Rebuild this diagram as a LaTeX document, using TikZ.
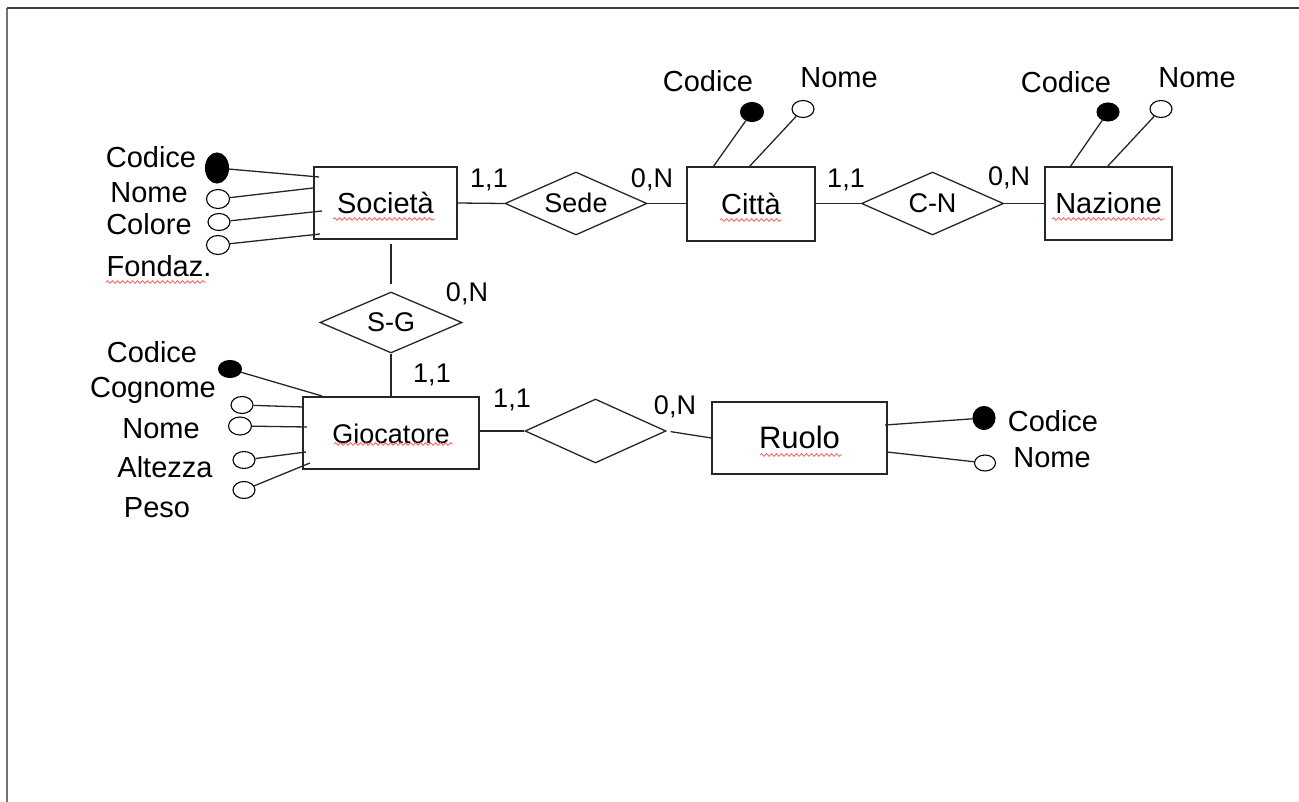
\documentclass[tikz,border=0pt]{standalone}
\usepackage{fontspec}
\setmainfont{Liberation Sans}
\usetikzlibrary{shapes.geometric,decorations.pathmorphing,calc}
\begin{document}
\begin{tikzpicture}[x=1pt,y=-1pt,
  ent/.style={draw=black!85,line width=1.3pt,rectangle,inner sep=0pt,text height=21pt,text depth=0pt,font=\fontsize{29}{30}\selectfont},
  rel/.style={draw=black!85,line width=1.3pt,diamond,inner sep=0pt,minimum width=142pt,minimum height=63pt},
  rtxt/.style={inner sep=0pt,text height=19pt,text depth=0pt,font=\fontsize{27}{28}\selectfont},
  keyattr/.style={draw=black,fill=black,ellipse,inner sep=0pt,line width=1.1pt},
  attr/.style={draw=black,fill=white,ellipse,inner sep=0pt,line width=1.1pt},
  lbl/.style={inner sep=0pt,text height=21pt,text depth=0pt,font=\fontsize{29}{30}\selectfont},
  card/.style={inner sep=0pt,text height=19pt,text depth=0pt,font=\fontsize{27}{28}\selectfont},
  conn/.style={draw=black!85,line width=1.3pt},
  wave/.style={draw=red!65!white,line width=0.8pt,decorate,decoration={snake,segment length=5pt,amplitude=1.3pt}}
]
\useasboundingbox (0,0) rectangle (1299,802);
% frame
\coordinate (fTL) at (7,8);
\coordinate (fTR) at (1299,8);
\coordinate (fBL) at (7,802);
\draw[black!55,line width=2pt] (fTL) -- (fBL);
\draw[black!75,line width=1.5pt] (fTL) -- (fTR);

% entities
\node[ent,minimum width=143pt,minimum height=72pt] (soc) at (385.5,203) {Società};
\node[ent,minimum width=128pt,minimum height=74pt] (cit) at (751,204) {Città};
\node[ent,minimum width=127pt,minimum height=73pt] (naz) at (1108.5,203.5) {Nazione};
\node[ent,minimum width=176pt,minimum height=72pt,font=\fontsize{27}{28}\selectfont] (gio) at (391,433) {Giocatore};
\node[ent,minimum width=175pt,minimum height=72pt,font=\fontsize{31}{32}\selectfont] (ruo) at (799.5,438) {Ruolo};

% relationships
\node[rel] (sede) at (576,203.5) {};
\node[rtxt] (sedeT) at (sede) {Sede};
\node[rel] (cn) at (932.5,203.5) {};
\node[rtxt] (cnT) at (cn) {C-N};
\node[rel,minimum height=61pt] (sg) at (391,322.5) {};
\node[rtxt] (sgT) at (sg) {S-G};
\node[rel,minimum width=141pt,minimum height=64pt] (gr) at (595.5,431) {};

% connectors
\draw[conn] (soc.east) -- (sede.west);
\draw[conn] (sede.east) -- (sede.east -| cit.west);
\draw[conn] (cn.west -| cit.east) -- (cn.west);
\draw[conn] (cn.east) -- (cn.east -| naz.west);
\draw[conn,shorten <=7pt,shorten >=4pt] (sg.north) -- (sg.north |- soc.south);
\draw[conn] (sg.south) -- (gio.north);
\draw[conn] (gr.west -| gio.east) -- (gr.west);
\draw[conn,shorten <=4pt] (gr.east) -- (ruo.west);

% wavy underlines
\draw[wave] (333,219) -- (435,219);
\draw[wave] (720,220) -- (782,220);
\draw[wave] (1052,219) -- (1165,219);
\draw[wave] (106,282) -- (206,282);
\draw[wave] (334,444) -- (453,444);
\draw[wave] (760,455) -- (842,455);

% Società attributes
\node[keyattr,minimum width=23pt,minimum height=30pt] (sa1) at (217,168) {};
\node[attr,minimum width=23pt,minimum height=19pt] (sa2) at (218,199) {};
\node[attr,minimum width=22pt,minimum height=17pt] (sa3) at (219,222) {};
\node[attr,minimum width=23pt,minimum height=19pt] (sa4) at (218,245) {};
\coordinate (sp1) at (319,177);
\coordinate (sp2) at (313,188);
\coordinate (sp3) at (322,211);
\coordinate (sp4) at (320,234);
\draw[conn] (sa1) -- (sp1);
\draw[conn] (sa2) -- (sp2);
\draw[conn] (sa3) -- (sp3);
\draw[conn] (sa4) -- (sp4);
\node[lbl] (sl1) at (151,157) {Codice};
\node[lbl] (sl2) at (149,192) {Nome};
\node[lbl] (sl3) at (149,224) {Colore};
\node[lbl] (sl4) at (159,266) {Fondaz.};

% Città attributes
\node[keyattr,minimum width=23pt,minimum height=19pt] (ca1) at (752,112) {};
\node[attr,minimum width=22pt,minimum height=17pt] (ca2) at (803,109) {};
\coordinate (cp1) at (713,167);
\coordinate (cp2) at (749,167);
\draw[conn] (ca1) -- (cp1);
\draw[conn] (ca2) -- (cp2);
\node[lbl] (cl1) at (708,81) {Codice};
\node[lbl] (cl2) at (839,77) {Nome};

% Nazione attributes
\node[keyattr,minimum width=22pt,minimum height=18pt] (na1) at (1108,112) {};
\node[attr,minimum width=22pt,minimum height=17pt] (na2) at (1161,109) {};
\coordinate (np1) at (1070,167);
\coordinate (np2) at (1107,167);
\draw[conn] (na1) -- (np1);
\draw[conn] (na2) -- (np2);
\node[lbl] (nl1) at (1066,82) {Codice};
\node[lbl] (nl2) at (1197,77) {Nome};

% Giocatore attributes
\node[keyattr,minimum width=23pt,minimum height=17pt] (ga1) at (230,369) {};
\node[attr,minimum width=22pt,minimum height=17pt] (ga2) at (242,405) {};
\node[attr,minimum width=23pt,minimum height=18pt] (ga3) at (240,426) {};
\node[attr,minimum width=22pt,minimum height=17pt] (ga4) at (244,460) {};
\node[attr,minimum width=22pt,minimum height=17pt] (ga5) at (244,490) {};
\coordinate (gp1) at (322,396);
\coordinate (gp2) at (303,407);
\coordinate (gp3) at (307,427);
\coordinate (gp4) at (306,452);
\coordinate (gp5) at (310,463);
\draw[conn] (ga1) -- (gp1);
\draw[conn] (ga2) -- (gp2);
\draw[conn] (ga3) -- (gp3);
\draw[conn] (ga4) -- (gp4);
\draw[conn] (ga5) -- (gp5);
\node[lbl] (gl1) at (152,352) {Codice};
\node[lbl] (gl2) at (153,387) {Cognome};
\node[lbl] (gl3) at (161,428) {Nome};
\node[lbl] (gl4) at (165,467) {Altezza};
\node[lbl] (gl5) at (157,507) {Peso};

% Ruolo attributes
\node[keyattr,minimum width=22pt,minimum height=23pt] (ra1) at (984,418) {};
\node[attr,minimum width=21pt,minimum height=16pt] (ra2) at (985,463) {};
\coordinate (rp1) at (885,425);
\coordinate (rp2) at (887,452);
\draw[conn] (ra1) -- (rp1);
\draw[conn] (ra2) -- (rp2);
\node[lbl] (rl1) at (1053,421) {Codice};
\node[lbl] (rl2) at (1052,457) {Nome};

% cardinalities
\node[card] (k1) at (489,178) {1,1};
\node[card] (k2) at (652,178) {0,N};
\node[card] (k3) at (846,178) {1,1};
\node[card] (k4) at (1009,176) {0,N};
\node[card] (k5) at (467,292) {0,N};
\node[card] (k6) at (432,373) {1,1};
\node[card] (k7) at (512,398) {1,1};
\node[card] (k8) at (675,405) {0,N};
\end{tikzpicture}
\end{document}
